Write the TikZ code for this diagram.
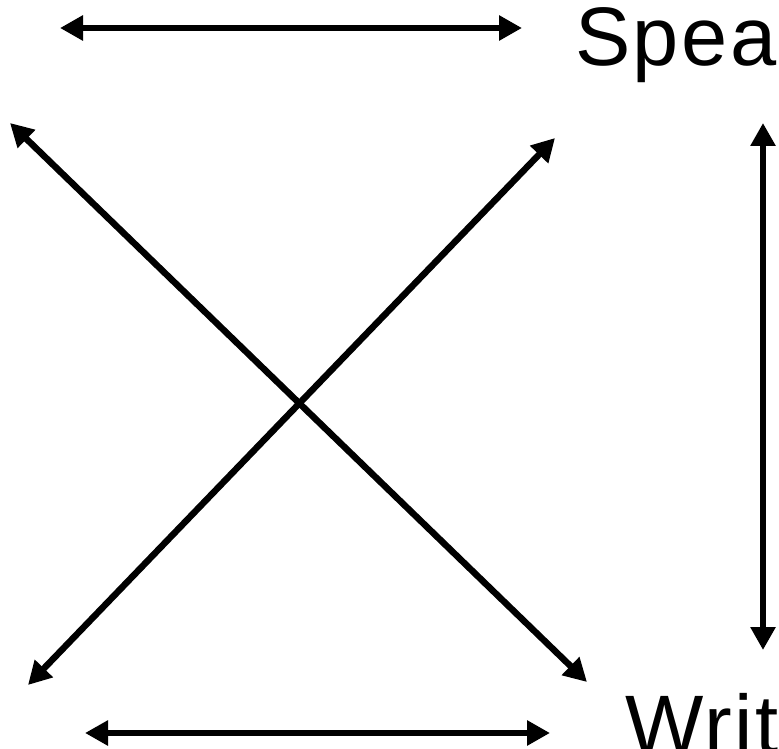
\documentclass[tikz,border=0pt]{standalone}
\usepackage{fontspec}
\setmainfont{Liberation Sans}[LetterSpace=3]
\usetikzlibrary{arrows.meta}
\begin{document}
\begin{tikzpicture}[x=1pt,y=-1pt,
  link/.style={line width=6.5pt,{Triangle[length=23pt,width=24pt]}-{Triangle[length=23pt,width=24pt]}},
  label/.style={inner sep=0pt,anchor=base west,font=\fontsize{83}{98}\selectfont}]
\useasboundingbox (0,0) rectangle (779,749);
\coordinate (t1) at (60,28);
\coordinate (t2) at (522,28);
\coordinate (d1a) at (10,123);
\coordinate (d1b) at (587,682);
\coordinate (d2a) at (555,138);
\coordinate (d2b) at (28,685);
\coordinate (v1) at (763,123);
\coordinate (v2) at (763,650);
\coordinate (b1) at (85,733);
\coordinate (b2) at (550,733);
\node[label] (speak) at (575,66) {Spea};
\node[label] (write) at (625,753) {Writ};
\draw[link] (t1) -- (t2);
\draw[link] (d1a) -- (d1b);
\draw[link] (d2a) -- (d2b);
\draw[link] (v1) -- (v2);
\draw[link] (b1) -- (b2);
\end{tikzpicture}
\end{document}
